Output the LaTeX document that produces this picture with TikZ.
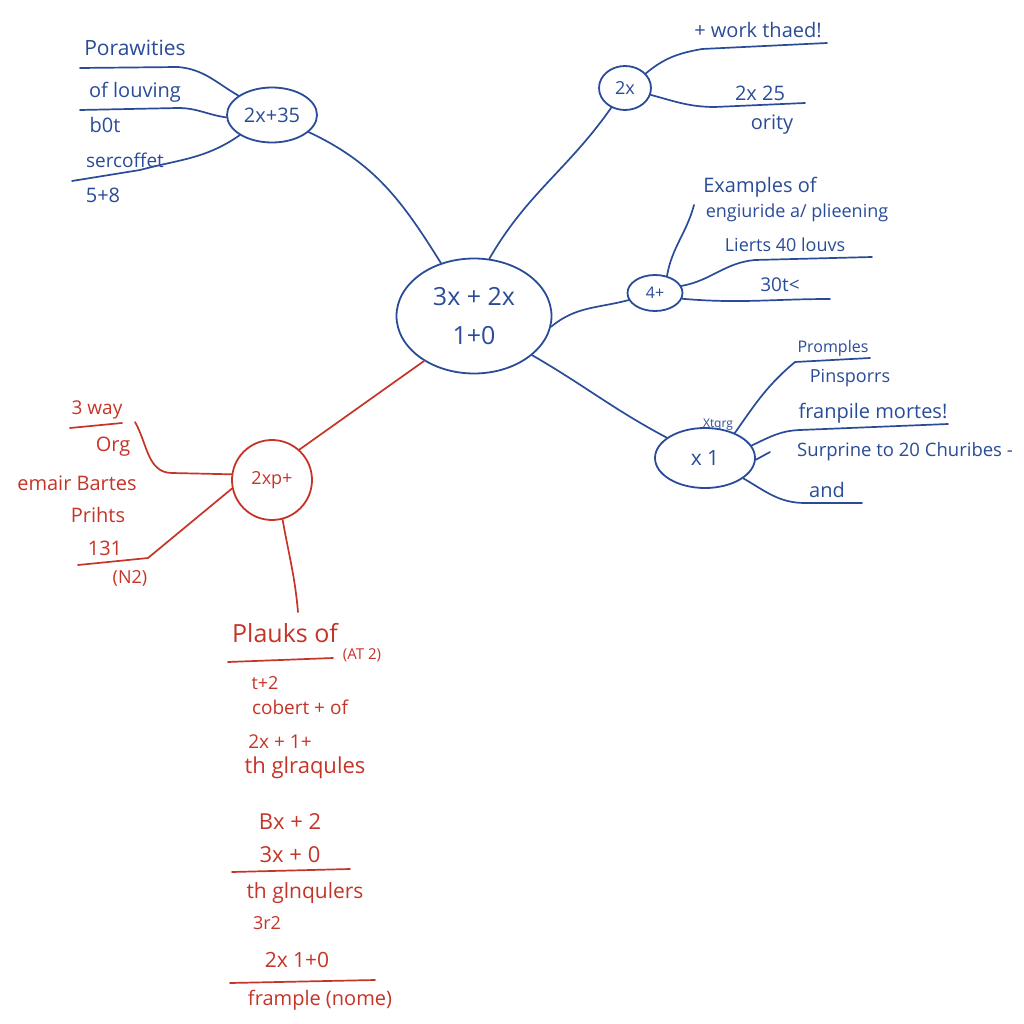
\documentclass[tikz,border=0pt]{standalone}
\usepackage{fontspec}
\setmainfont{Open Sans}
\usepackage{xcolor}
\usetikzlibrary{shapes.geometric}
\definecolor{inkblue}{RGB}{42,76,152}
\definecolor{inkred}{RGB}{198,52,40}
\newcommand{\hsz}[1]{\fontsize{#1}{#1}\selectfont}

\begin{document}
\begin{tikzpicture}[x=1pt,y=1pt,line cap=round,line join=round,
  bub/.style={draw=inkblue,ellipse,line width=1.8pt,inner sep=0pt,text=inkblue},
  rbub/.style={draw=inkred,circle,line width=1.8pt,inner sep=0pt,text=inkred},
  bl/.style={draw=inkblue,line width=1.7pt},
  rl/.style={draw=inkred,line width=1.7pt},
  bt/.style={text=inkblue,inner sep=0pt},
  rt/.style={text=inkred,inner sep=0pt}]
  \fill[white] (0,0) rectangle (1024,-1024);
  \useasboundingbox (0,0) rectangle (1024,-1024);

  \node [bub,minimum width=155,minimum height=115,align=center,font=\fontsize{25}{39}\selectfont] (c) at (474,-316) {3x + 2x\\1+0};
  \node [bub,minimum width=90,minimum height=55,font=\hsz{20}] (tl) at (272,-115) {2x+35};
  \node [bub,minimum width=52,minimum height=44,font=\hsz{18}] (tr) at (625,-88) {2x};
  \node [bub,minimum width=55,minimum height=36,font=\hsz{16}] (f) at (655,-293) {4+};
  \node [bub,minimum width=100,minimum height=60,font=\hsz{21}] (x1) at (705,-458) {x 1};
  \node [bt,font=\hsz{12}] (xq) at (718,-425) {Xtqrg};
  \node [rbub,minimum size=80,font=\hsz{18}] (rp) at (272,-480) {2xp+};

  \draw [bl] (c) to[out=122,in=-25] (tl);
  \draw [bl] (c.75) to[out=60,in=235] (tr);
  \draw [bl] (c.-8) to[out=40,in=195] (f);
  \draw [bl] (c.-34) to[out=-30,in=152] (x1);
  \draw [rl] (c.222) -- (rp.48);

  % top left
  \coordinate (pwA) at (178,-67); \coordinate (pwB) at (80,-68);
  \coordinate (olA) at (178,-108); \coordinate (olB) at (80,-110);
  \coordinate (sfA) at (140,-170); \coordinate (sfB) at (72,-181);
  \draw [bl] (tl.150) to[out=150,in=-5] (pwA) -- (pwB);
  \draw [bl] (tl.183) to[out=172,in=0] (olA) -- (olB);
  \draw [bl] (tl.212) to[out=215,in=15] (sfA) -- (sfB);
  \node [bt,font=\hsz{21}] (t1) at (135,-48) {Porawities};
  \node [bt,font=\hsz{20}] (t2) at (135,-92) {of louving};
  \node [bt,font=\hsz{20}] (t3) at (105,-125) {b0t};
  \node [bt,font=\hsz{19}] (t4) at (125,-160) {sercoffet};
  \node [bt,font=\hsz{20}] (t5) at (103,-195) {5+8};

  % top right
  \coordinate (wtA) at (702,-49); \coordinate (wtB) at (827,-43);
  \coordinate (tfA) at (715,-107); \coordinate (tfB) at (805,-103);
  \draw [bl] (tr.35) to[out=40,in=190] (wtA) -- (wtB);
  \draw [bl] (tr.-15) to[out=-15,in=180] (tfA) -- (tfB);
  \node [bt,font=\hsz{20}] (u1) at (758,-30) {+ work thaed!};
  \node [bt,font=\hsz{20}] (u2) at (760,-93) {2x 25};
  \node [bt,font=\hsz{20}] (u3) at (772,-125) {ority};

  % four
  \coordinate (exA) at (694,-205);
  \coordinate (lvA) at (755,-260); \coordinate (lvB) at (872,-257);
  \coordinate (ttB) at (830,-299);
  \draw [bl] (f.55) to[out=80,in=-105] (exA);
  \draw [bl] (f.15) to[out=10,in=185] (lvA) -- (lvB);
  \draw [bl] (f.-12) to[out=-5,in=180] (ttB);
  \node [bt,font=\hsz{20}] (v1) at (760,-187) {Examples of};
  \node [bt,font=\hsz{18}] (v2) at (797,-213) {engiuride a/ plieening};
  \node [bt,font=\hsz{18}] (v3) at (785,-245) {Lierts 40 louvs};
  \node [bt,font=\hsz{19}] (v4) at (780,-285) {30t<};

  % x one
  \coordinate (prA) at (795,-362); \coordinate (prB) at (870,-358);
  \coordinate (fmA) at (800,-430); \coordinate (fmB) at (948,-424);
  \coordinate (stA) at (770,-452);
  \coordinate (anA) at (805,-503); \coordinate (anB) at (862,-503);
  \draw [bl] (x1.40) to[out=55,in=-140] (prA) -- (prB);
  \draw [bl] (x1.15) to[out=25,in=182] (fmA) -- (fmB);
  \draw [bl] (x1.-2) -- (stA);
  \draw [bl] (x1.-28) to[out=-30,in=180] (anA) -- (anB);
  \node [bt,font=\hsz{16}] (w1) at (833,-348) {Promples};
  \node [bt,font=\hsz{18}] (w2) at (850,-378) {Pinsporrs};
  \node [bt,font=\hsz{20}] (w3) at (873,-413) {franpile mortes!};
  \node [bt,font=\hsz{18.5}] (w4) at (905,-452) {Surprine to 20 Churibes -};
  \node [bt,font=\hsz{20}] (w5) at (827,-490) {and};

  % red left
  \coordinate (wyA) at (172,-473); \coordinate (wyB) at (135,-422);
  \coordinate (lbA) at (148,-558); \coordinate (lbB) at (78,-565);
  \coordinate (wuA) at (70,-428); \coordinate (wuB) at (122,-423);
  \draw [rl] (rp.172) -- (wyA) to[out=180,in=-60] (wyB);
  \draw [rl] (rp.192) -- (lbA) -- (lbB);
  \draw [rl] (wuA) -- (wuB);
  \node [rt,font=\hsz{19}] (r1) at (97,-410) {3 way};
  \node [rt,font=\hsz{20}] (r2) at (113,-447) {Org};
  \node [rt,font=\hsz{20}] (r3) at (77,-483) {emair Bartes};
  \node [rt,font=\hsz{20}] (r4) at (98,-515) {Prihts};
  \node [rt,font=\hsz{20}] (r5) at (105,-548) {131};
  \node [rt,font=\hsz{18}] (r6) at (130,-578) {(N2)};

  % red list
  \coordinate (dnA) at (298,-612);
  \draw [rl] (rp.-75) to[out=-80,in=95] (dnA);
  \coordinate (ulA) at (228,-662); \coordinate (ulB) at (333,-658);
  \coordinate (umA) at (232,-872); \coordinate (umB) at (350,-869);
  \coordinate (unA) at (230,-983); \coordinate (unB) at (375,-980);
  \draw [rl] (ulA) -- (ulB);
  \draw [rl] (umA) -- (umB);
  \draw [rl] (unA) -- (unB);
  \node [rt,font=\hsz{25}] (s1) at (285,-633) {Plauks of};
  \node [rt,font=\hsz{15}] (s2) at (362,-655) {(AT 2)};
  \node [rt,font=\hsz{18}] (s3) at (265,-683) {t+2};
  \node [rt,font=\hsz{19}] (s4) at (300,-707) {cobert + of};
  \node [rt,font=\hsz{19}] (s5) at (280,-742) {2x + 1+};
  \node [rt,font=\hsz{22}] (s6) at (305,-768) {th glraqules};
  \node [rt,font=\hsz{22}] (s7) at (290,-822) {Bx + 2};
  \node [rt,font=\hsz{22}] (s8) at (290,-855) {3x + 0};
  \node [rt,font=\hsz{21}] (s9) at (305,-893) {th glnqulers};
  \node [rt,font=\hsz{18}] (s10) at (267,-923) {3r2};
  \node [rt,font=\hsz{21}] (s11) at (297,-960) {2x 1+0};
  \node [rt,font=\hsz{20}] (s12) at (320,-1000) {frample (nome)};
\end{tikzpicture}
\end{document}
